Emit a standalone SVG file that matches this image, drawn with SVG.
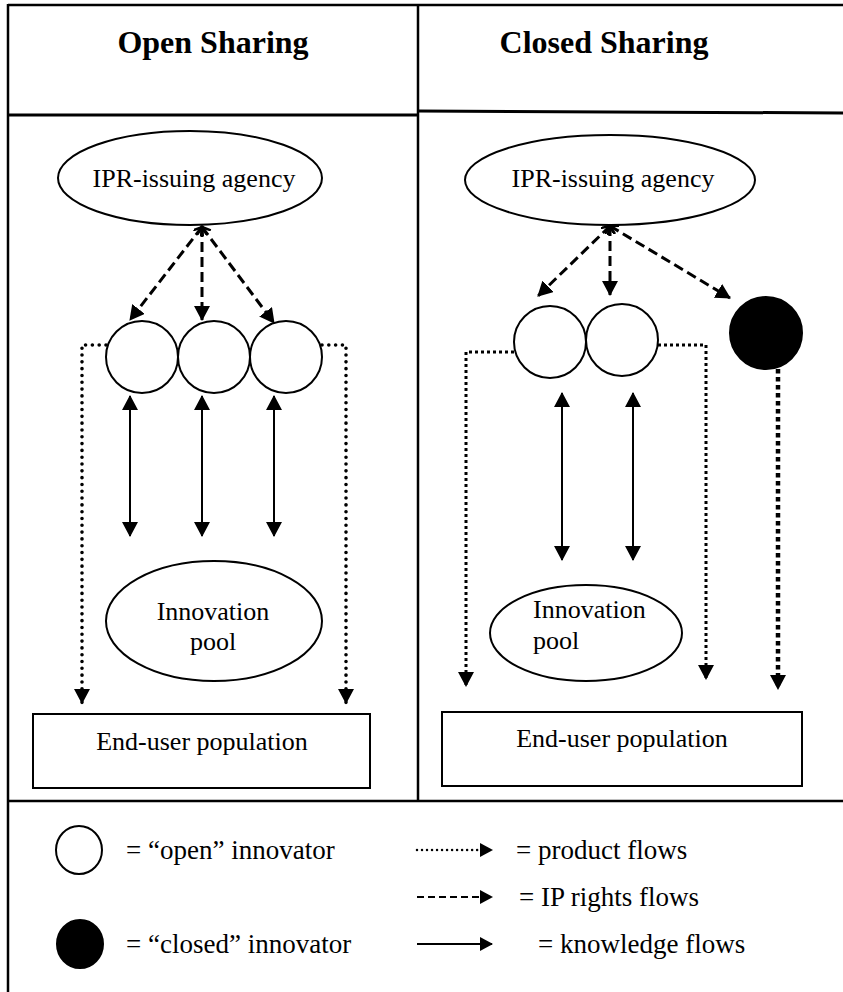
<svg xmlns="http://www.w3.org/2000/svg" width="843" height="992" viewBox="0 0 843 992">
  <style>
    .frame { fill: none; stroke: #000; stroke-width: 2.5; }
    .node { fill: #fff; stroke: #000; stroke-width: 2; }
    .closed { fill: #000; stroke: #000; stroke-width: 2; }
    .title { font-family: "Liberation Serif", "Times New Roman", serif; font-weight: bold; font-size: 32px; fill: #000; }
    .lbl { font-family: "Liberation Serif", "Times New Roman", serif; font-size: 26px; fill: #000; }
    .leg { font-family: "Liberation Serif", "Times New Roman", serif; font-size: 27px; fill: #000; }
    .ip { fill: none; stroke: #000; stroke-width: 3; stroke-dasharray: 10 5; }
    .know { fill: none; stroke: #000; stroke-width: 2; }
    .prod { fill: none; stroke: #000; stroke-width: 3.6; stroke-dasharray: 0.01 6.8; stroke-linecap: round; }
    .prod2 { fill: none; stroke: #000; stroke-width: 3; stroke-dasharray: 3 3; }
    .prod3 { fill: none; stroke: #000; stroke-width: 4.5; stroke-dasharray: 4.5 3.5; }
  </style>
  <defs>
    <marker id="head" markerUnits="userSpaceOnUse" markerWidth="16" markerHeight="16" refX="14" refY="8" orient="auto-start-reverse">
      <path d="M0,0 L15,8 L0,16 z" fill="#000"/>
    </marker>
    <marker id="headSm" markerUnits="userSpaceOnUse" markerWidth="14" markerHeight="14" refX="12" refY="7" orient="auto-start-reverse">
      <path d="M0,0 L13,7 L0,14 z" fill="#000"/>
    </marker>
    <marker id="chev" markerUnits="userSpaceOnUse" markerWidth="12" markerHeight="12" refX="8" refY="5" orient="auto-start-reverse">
      <path d="M0,0 L8,5 L0,10" fill="none" stroke="#000" stroke-width="2.5"/>
    </marker>
  </defs>

  <!-- frame and panel dividers -->
  <g id="frame">
    <line class="frame" x1="8" y1="5" x2="843" y2="5"/>
    <line class="frame" x1="8" y1="4" x2="8" y2="992"/>
    <line class="frame" x1="418" y1="5" x2="418" y2="801"/>
    <line class="frame" x1="8" y1="115" x2="418" y2="115" style="stroke-width:3"/>
    <line class="frame" x1="418" y1="111" x2="843" y2="113" style="stroke-width:3"/>
    <line class="frame" x1="8" y1="801" x2="843" y2="801"/>
  </g>

  <g id="headers">
    <text class="title" x="213" y="53" text-anchor="middle">Open Sharing</text>
    <text class="title" x="604" y="53" text-anchor="middle">Closed Sharing</text>
  </g>

  <!-- open sharing panel -->
  <g id="open-ipr">
    <ellipse class="node" cx="190" cy="178" rx="132" ry="47"/>
    <text class="lbl" x="194" y="187" text-anchor="middle">IPR-issuing agency</text>
  </g>
  <g id="open-innovator-1"><circle class="node" cx="142" cy="357" r="36"/></g>
  <g id="open-innovator-2"><circle class="node" cx="214" cy="357" r="36"/></g>
  <g id="open-innovator-3"><circle class="node" cx="286" cy="357" r="36"/></g>
  <g id="open-pool">
    <ellipse class="node" cx="214" cy="621" rx="108" ry="60"/>
    <text class="lbl" x="213" y="620" text-anchor="middle">Innovation</text>
    <text class="lbl" x="213" y="650" text-anchor="middle">pool</text>
  </g>
  <g id="open-users">
    <rect class="node" x="33" y="714" width="337" height="74"/>
    <text class="lbl" x="202" y="750" text-anchor="middle">End-user population</text>
  </g>

  <!-- closed sharing panel -->
  <g id="closed-ipr">
    <ellipse class="node" cx="610" cy="180" rx="145" ry="45"/>
    <text class="lbl" x="613" y="187" text-anchor="middle">IPR-issuing agency</text>
  </g>
  <g id="closed-open-innovator-1"><circle class="node" cx="550" cy="342" r="36"/></g>
  <g id="closed-open-innovator-2"><circle class="node" cx="622" cy="340" r="36"/></g>
  <g id="closed-innovator"><circle class="closed" cx="766" cy="333" r="36"/></g>
  <g id="closed-pool">
    <ellipse class="node" cx="586" cy="633" rx="96" ry="48"/>
    <text class="lbl" x="533" y="618">Innovation</text>
    <text class="lbl" x="533" y="649">pool</text>
  </g>
  <g id="closed-users">
    <rect class="node" x="442" y="712" width="360" height="74"/>
    <text class="lbl" x="622" y="747" text-anchor="middle">End-user population</text>
  </g>

  <!-- connectors -->
  <g id="connectors">
    <!-- IP rights flows -->
    <line class="ip" x1="202" y1="227" x2="130" y2="320" marker-start="url(#chev)" marker-end="url(#head)"/>
    <line class="ip" x1="202" y1="227" x2="202" y2="320" marker-start="url(#chev)" marker-end="url(#head)"/>
    <line class="ip" x1="202" y1="227" x2="274" y2="323" marker-start="url(#chev)" marker-end="url(#head)"/>
    <line class="ip" x1="610" y1="226" x2="538" y2="296" marker-start="url(#chev)" marker-end="url(#head)"/>
    <line class="ip" x1="610" y1="226" x2="610" y2="295" marker-start="url(#chev)" marker-end="url(#head)"/>
    <line class="ip" x1="610" y1="226" x2="730" y2="298" marker-start="url(#chev)" marker-end="url(#head)"/>

    <!-- knowledge flows -->
    <line class="know" x1="130" y1="396" x2="130" y2="536" marker-start="url(#head)" marker-end="url(#head)"/>
    <line class="know" x1="202" y1="396" x2="202" y2="536" marker-start="url(#head)" marker-end="url(#head)"/>
    <line class="know" x1="274" y1="396" x2="274" y2="536" marker-start="url(#head)" marker-end="url(#head)"/>
    <line class="know" x1="562" y1="393" x2="562" y2="560" marker-start="url(#head)" marker-end="url(#head)"/>
    <line class="know" x1="633" y1="393" x2="633" y2="560" marker-start="url(#head)" marker-end="url(#head)"/>

    <!-- product flows -->
    <polyline class="prod" points="106,345 82,345 82,703" marker-end="url(#head)"/>
    <polyline class="prod" points="322,345 346,345 346,703" marker-end="url(#head)"/>
    <polyline class="prod2" points="514,352 466,352 466,686" marker-end="url(#head)"/>
    <polyline class="prod2" points="658,345 706,345 706,679" marker-end="url(#head)"/>
    <polyline class="prod3" points="778,369 778,689" marker-end="url(#head)"/>
  </g>

  <!-- key -->
  <g id="legend">
    <ellipse class="node" cx="79" cy="850" rx="23" ry="24"/>
    <text class="leg" x="126" y="859">= “open” innovator</text>
    <ellipse class="closed" cx="80" cy="944" rx="23" ry="24"/>
    <text class="leg" x="126" y="953">= “closed” innovator</text>

    <line x1="417" y1="850" x2="492" y2="850" fill="none" stroke="#000" stroke-width="2.5" stroke-dasharray="0.01 5" stroke-linecap="round" marker-end="url(#headSm)"/>
    <text class="leg" x="516" y="859">= product flows</text>
    <line x1="417" y1="897" x2="492" y2="897" fill="none" stroke="#000" stroke-width="2" stroke-dasharray="7 4" marker-end="url(#headSm)"/>
    <text class="leg" x="519" y="906">= IP rights flows</text>
    <line x1="417" y1="944" x2="492" y2="944" fill="none" stroke="#000" stroke-width="2" marker-end="url(#headSm)"/>
    <text class="leg" x="538" y="953">= knowledge flows</text>
  </g>
</svg>
